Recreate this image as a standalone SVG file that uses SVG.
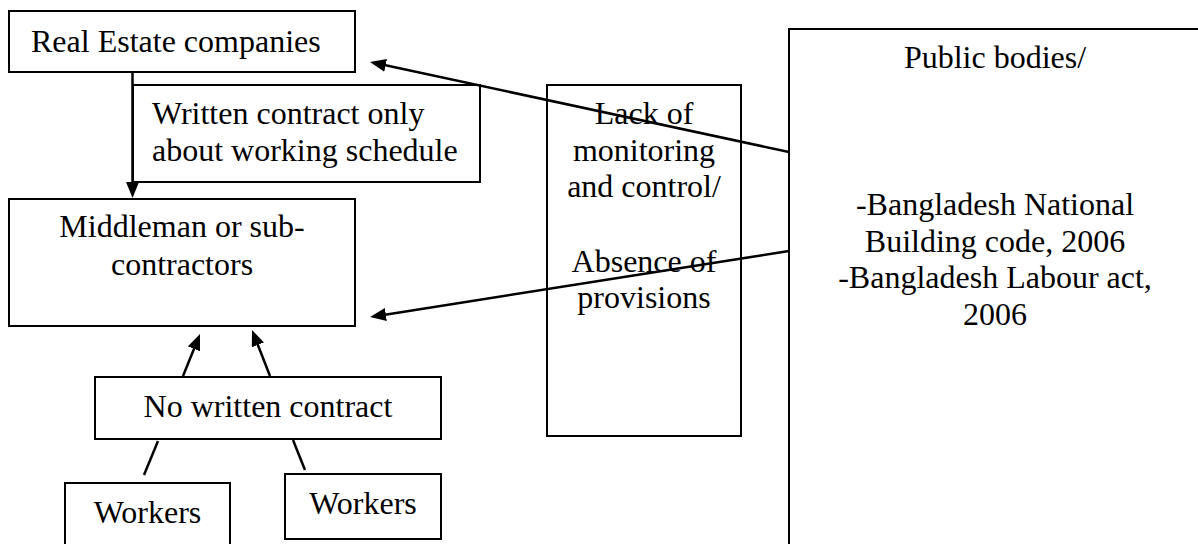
<svg xmlns="http://www.w3.org/2000/svg" width="1198" height="544" viewBox="0 0 1198 544">
  <style>
    .box { fill: #ffffff; stroke: #000000; stroke-width: 2; }
    .mid { text-anchor: middle; }
    .link { stroke: #000000; stroke-width: 2.5; fill: none; }
  </style>
  <defs>
    <marker id="arrow" markerUnits="userSpaceOnUse" markerWidth="16" markerHeight="13" refX="12" refY="6.5" orient="auto">
      <path d="M0,0 L16,6.5 L0,13 Z" fill="#000000"/>
    </marker>
  </defs>

  <g font-family="'Liberation Serif', 'DejaVu Serif', serif" font-size="32" fill="#000000">
    <g id="real-estate">
      <rect class="box" x="9" y="11" width="346" height="61"/>
      <text x="31" y="52">Real Estate companies</text>
    </g>

    <g id="written-contract">
      <rect class="box" x="133" y="85" width="347" height="97"/>
      <text x="152" y="124">Written contract only</text>
      <text x="152" y="161">about working schedule</text>
    </g>

    <g id="middleman">
      <rect class="box" x="9" y="199" width="346" height="127"/>
      <text class="mid" x="182" y="237">Middleman or sub-</text>
      <text class="mid" x="182" y="275">contractors</text>
    </g>

    <g id="lack-of-monitoring">
      <rect class="box" x="547" y="85" width="194" height="351"/>
      <text class="mid" x="644" y="124">Lack of</text>
      <text class="mid" x="644" y="161">monitoring</text>
      <text class="mid" x="644" y="197">and control/</text>
      <text class="mid" x="644" y="272">Absence of</text>
      <text class="mid" x="644" y="308">provisions</text>
    </g>

    <g id="public-bodies">
      <rect class="box" x="789" y="29" width="412" height="530"/>
      <text class="mid" x="995" y="68">Public bodies/</text>
      <text class="mid" x="995" y="215">-Bangladesh National</text>
      <text class="mid" x="995" y="252">Building code, 2006</text>
      <text class="mid" x="995" y="288">-Bangladesh Labour act,</text>
      <text class="mid" x="995" y="325">2006</text>
    </g>

    <g id="no-written-contract">
      <rect class="box" x="95" y="377" width="346" height="62"/>
      <text class="mid" x="268" y="417">No written contract</text>
    </g>

    <g id="workers-1">
      <rect class="box" x="65" y="483" width="165" height="80"/>
      <text class="mid" x="147.5" y="523">Workers</text>
    </g>

    <g id="workers-2">
      <rect class="box" x="285" y="474" width="156" height="65"/>
      <text class="mid" x="363" y="514">Workers</text>
    </g>
  </g>

  <g id="connectors">
    <line class="link" x1="132.5" y1="72" x2="132.5" y2="194" marker-end="url(#arrow)"/>
    <line class="link" x1="789" y1="152" x2="373.9" y2="62.8" marker-end="url(#arrow)"/>
    <line class="link" x1="789" y1="251" x2="374" y2="316.4" marker-end="url(#arrow)"/>
    <line class="link" x1="183" y1="376" x2="198.5" y2="337.7" marker-end="url(#arrow)"/>
    <line class="link" x1="270" y1="376" x2="253.5" y2="333.7" marker-end="url(#arrow)"/>
    <line class="link" x1="158" y1="441" x2="144" y2="475"/>
    <line class="link" x1="293" y1="440" x2="305" y2="470"/>
  </g>
</svg>
